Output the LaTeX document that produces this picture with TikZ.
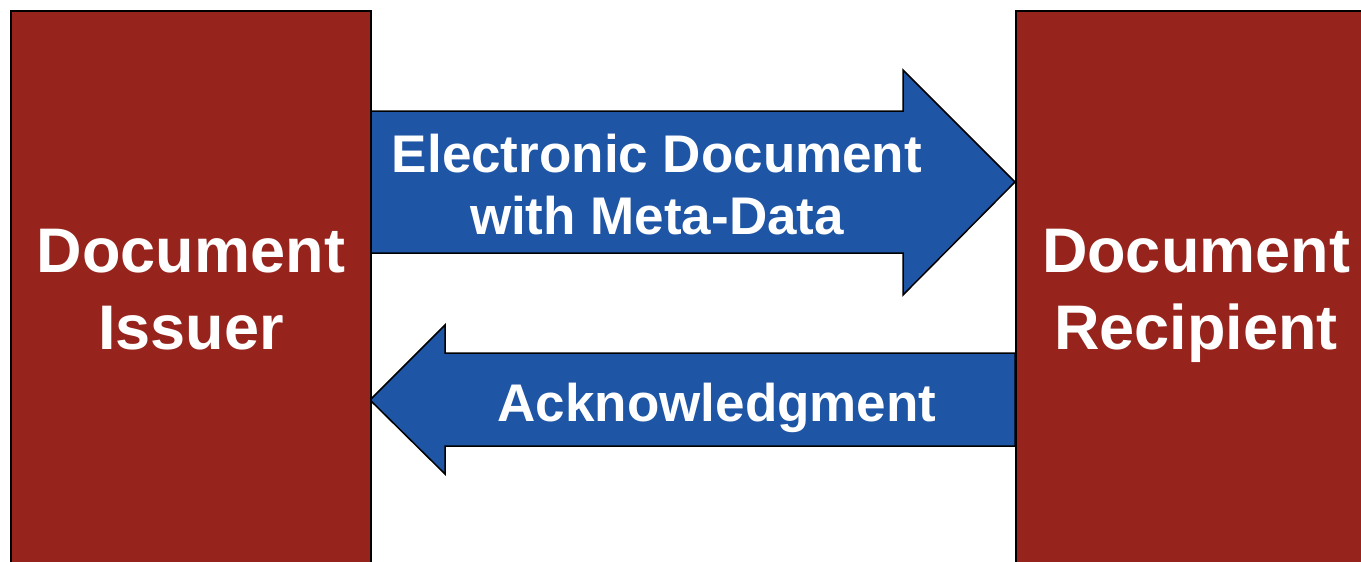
\documentclass[tikz,border=0pt]{standalone}
\usepackage{fontspec}
\setmainfont{Liberation Sans}
\usetikzlibrary{positioning}
\definecolor{boxred}{RGB}{150,35,28}
\definecolor{arrowblue}{RGB}{30,85,165}

\begin{document}
\begin{tikzpicture}[x=1pt,y=-1pt,line width=2pt,
	party/.style={draw=black, fill=boxred, minimum width=360pt, minimum height=600pt, anchor=north west, inner sep=0},
	partytext/.style={text=white, font=\fontsize{63}{77}\selectfont\bfseries, align=center, anchor=north, inner sep=0},
	arrowtext/.style={text=white, font=\fontsize{53}{62}\selectfont\bfseries, align=center, anchor=north, inner sep=0},
	blockarrow/.style={draw=black, fill=arrowblue, line width=1.5pt, line join=miter}]
	\useasboundingbox (0,0) rectangle (1361,562);
	\clip (0,0) rectangle (1361,562);
	
	% block arrows
	\draw[blockarrow] (370,111) -- (903,111) -- (903,70) -- (1015,182) -- (903,295) -- (903,253) -- (370,253) -- cycle;
	\draw[blockarrow] (370,400) -- (445,325) -- (445,353) -- (1015,353) -- (1015,446) -- (445,446) -- (445,474) -- cycle;
	
	% the two parties
	\node[party] (issuer) at (10,10) {};
	\node[party] (recipient) at (1015,10) {};
	
	\node[partytext] (issuertext) at (191,228) {Document\\Issuer};
	\node[partytext] (recipienttext) at (1196,228) {Document\\Recipient};
	
	\node[arrowtext] (doctext) at (657,133) {Electronic Document\\with Meta-Data};
	\node[arrowtext] (acktext) at (717,382) {Acknowledgment};
	
\end{tikzpicture}
\end{document}
